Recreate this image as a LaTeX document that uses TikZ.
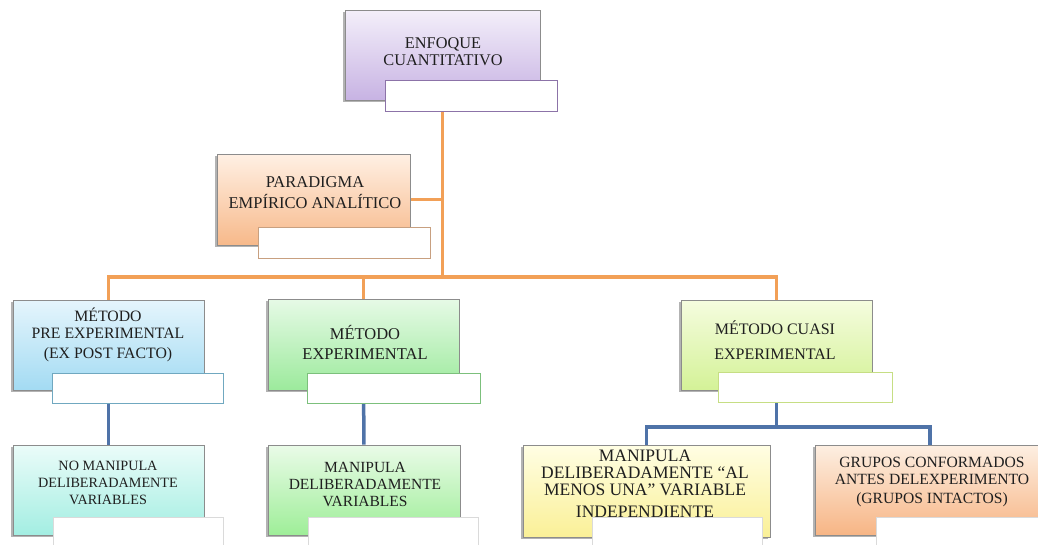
\documentclass[tikz,border=0pt]{standalone}
\usepackage{fontspec}
\setmainfont{Liberation Serif}
\usetikzlibrary{positioning,shadows,backgrounds}

\definecolor{lineO}{HTML}{F2A057}
\definecolor{lineB}{HTML}{4F73A8}
\definecolor{enfT}{HTML}{F4EFFA}\definecolor{enfB}{HTML}{C7B3E3}\definecolor{enfD}{HTML}{8C73A8}
\definecolor{parT}{HTML}{FFF0E4}\definecolor{parB}{HTML}{F7B98A}\definecolor{parD}{HTML}{C8A080}
\definecolor{mOneT}{HTML}{E5F5FC}\definecolor{mOneB}{HTML}{A3DBF3}\definecolor{mOneD}{HTML}{70A8C0}
\definecolor{mTwoT}{HTML}{E6FAE6}\definecolor{mTwoB}{HTML}{9CEA9C}\definecolor{mTwoD}{HTML}{7CC07C}
\definecolor{mThrT}{HTML}{F5FCDF}\definecolor{mThrB}{HTML}{D4F297}\definecolor{mThrD}{HTML}{C6DE84}
\definecolor{bOneT}{HTML}{EBFCF9}\definecolor{bOneB}{HTML}{A3EEE2}
\definecolor{bTwoT}{HTML}{EAFBE8}\definecolor{bTwoB}{HTML}{9EEE98}
\definecolor{bThrT}{HTML}{FFFEE4}\definecolor{bThrB}{HTML}{FAF097}
\definecolor{bFouT}{HTML}{FDEFE2}\definecolor{bFouB}{HTML}{F7B585}
\definecolor{wD}{HTML}{DADADA}

\begin{document}
\begin{tikzpicture}[
  x=1pt,y=-1pt,
  box/.style={rectangle,draw=black!45,line width=0.6pt,inner sep=0pt,
              drop shadow={shadow xshift=-2pt,shadow yshift=-2pt,opacity=0.4,fill=black!75}},
  wbox/.style={rectangle,fill=white,line width=0.7pt,inner sep=0pt,
               minimum width=172pt,minimum height=31pt},
  txt/.style={align=center,inner sep=0pt,text=black!88,
              font=\fontsize{#1}{17}\selectfont},
  txt/.default=16,
  orng/.style={line width=3.5pt,draw=lineO},
  blu/.style={line width=3.5pt,draw=lineB}
]
\useasboundingbox (0,0) rectangle (1038,544);
\clip (0,0) rectangle (1038,544);

%% ================= top =================
\node[box,top color=enfT,bottom color=enfB,minimum width=195pt,minimum height=90pt] (enf) at (442.5,55) {};
\node[txt=16.3] (enfL) at (443,52) {ENFOQUE\\CUANTITATIVO};
\node[wbox,draw=enfD] (enfW) at (471,96) {};

\node[box,top color=parT,bottom color=parB,minimum width=193pt,minimum height=91pt] (par) at (313.5,199.5) {};
\node[txt=16.5] (parL) at (315,193) {PARADIGMA\\[4pt]EMPÍRICO ANALÍTICO};
\node[wbox,draw=parD] (parW) at (344,242.5) {};

%% ================= methods =================
\node[box,top color=mOneT,bottom color=mOneB,minimum width=191pt,minimum height=90pt] (m1) at (108.5,345) {};
\node[txt=15.8] (m1L) at (108,335) {MÉTODO\\PRE EXPERIMENTAL\\[3pt](EX POST FACTO)};
\node[wbox,draw=mOneD,minimum width=171pt,minimum height=30pt] (m1W) at (137.5,388) {};

\node[box,top color=mTwoT,bottom color=mTwoB,minimum width=191pt,minimum height=91pt] (m2) at (363.5,344.5) {};
\node[txt=16.5] (m2L) at (365,342) {MÉTODO\\[3pt]EXPERIMENTAL};
\node[wbox,draw=mTwoD,minimum width=173pt,minimum height=30pt] (m2W) at (393.5,388) {};

\node[box,top color=mThrT,bottom color=mThrB,minimum width=191pt,minimum height=90pt] (m3) at (776.5,345) {};
\node[txt=16] (m3L) at (775,340) {MÉTODO CUASI\\[8pt]EXPERIMENTAL};
\node[wbox,draw=mThrD,minimum width=174pt,minimum height=30pt] (m3W) at (805,387) {};

%% ================= bottom =================
\node[box,top color=bOneT,bottom color=bOneB,minimum width=191pt,minimum height=90pt] (b1) at (108.5,490) {};
\node[txt=14.2] (b1L) at (108,483) {NO MANIPULA\\DELIBERADAMENTE\\VARIABLES};
\node[wbox,draw=wD,minimum width=170pt,minimum height=30pt] (b1W) at (138,532) {};

\node[box,top color=bTwoT,bottom color=bTwoB,minimum width=192pt,minimum height=90pt] (b2) at (364,490) {};
\node[txt=15.5] (b2L) at (365,484) {MANIPULA\\DELIBERADAMENTE\\VARIABLES};
\node[wbox,draw=wD,minimum width=170pt,minimum height=30pt] (b2W) at (393,532) {};

\node[box,top color=bThrT,bottom color=bThrB,minimum width=247pt,minimum height=92pt] (b3) at (646.5,491) {};
\node[txt=17.5] (b3L) at (645,484) {MANIPULA\\DELIBERADAMENTE “AL\\MENOS UNA” VARIABLE\\[5pt]INDEPENDIENTE};
\node[wbox,draw=wD,minimum width=170pt,minimum height=30pt] (b3W) at (677,532) {};

\node[box,top color=bFouT,bottom color=bFouB,minimum width=230pt,minimum height=90pt] (b4) at (930,490) {};
\node[txt=15.6] (b4L) at (932,482) {GRUPOS CONFORMADOS\\ANTES DELEXPERIMENTO\\[2pt](GRUPOS INTACTOS)};
\node[wbox,draw=wD,minimum width=170pt,minimum height=30pt] (b4W) at (961,532) {};

%% ================= connectors =================
\begin{scope}[on background layer]
  \coordinate (bar) at (443,277);
  \coordinate (bar2) at (776,427);
  \draw[orng] (enf) -- (enf |- bar);
  \draw[orng] (par) -- (par -| enf);
  \draw[orng] (m1) -- (m1 |- bar) -- (m3 |- bar) -- (m3);
  \draw[orng] (m2) -- (m2 |- bar);
  \foreach \a/\b in {m1/b1, m2/b2} \draw[blu] (\a) -- (\b);
  \draw[blu] (m3) -- (m3 |- bar2);
  \draw[blu] (b3) |- (bar2) -| (b4);
\end{scope}

\end{tikzpicture}
\end{document}
